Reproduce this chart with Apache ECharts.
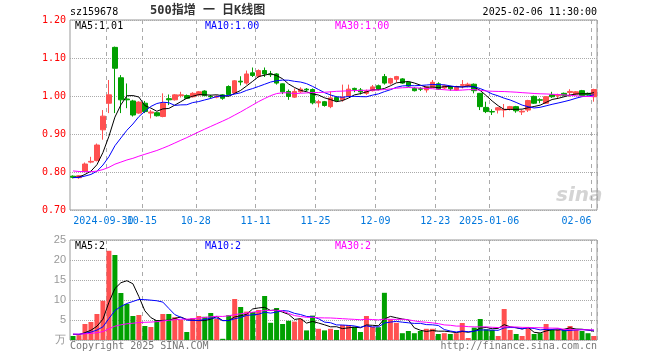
<!DOCTYPE html>
<html><head><meta charset="utf-8">
<script src="https://cdn.jsdelivr.net/npm/echarts@6/dist/echarts.min.js"></script>
<style>html,body{margin:0;padding:0;background:#fff}#c{width:660px;height:360px}</style>
</head><body><div id="c"></div>
<script>
// ---- data ----
const dates = ['2024-09-20','2024-09-23','2024-09-24','2024-09-25','2024-09-26','2024-09-27','2024-09-30',
'2024-10-08','2024-10-09','2024-10-10','2024-10-11','2024-10-14','2024-10-15','2024-10-16','2024-10-17','2024-10-18','2024-10-21','2024-10-22','2024-10-23','2024-10-24','2024-10-25','2024-10-28','2024-10-29','2024-10-30','2024-10-31',
'2024-11-01','2024-11-04','2024-11-05','2024-11-06','2024-11-07','2024-11-08','2024-11-11','2024-11-12','2024-11-13','2024-11-14','2024-11-15','2024-11-18','2024-11-19','2024-11-20','2024-11-21','2024-11-22','2024-11-25','2024-11-26','2024-11-27','2024-11-28','2024-11-29',
'2024-12-02','2024-12-03','2024-12-04','2024-12-05','2024-12-06','2024-12-09','2024-12-10','2024-12-11','2024-12-12','2024-12-13','2024-12-16','2024-12-17','2024-12-18','2024-12-19','2024-12-20','2024-12-23','2024-12-24','2024-12-25','2024-12-26','2024-12-27','2024-12-30','2024-12-31',
'2025-01-02','2025-01-03','2025-01-06','2025-01-07','2025-01-08','2025-01-09','2025-01-10','2025-01-13','2025-01-14','2025-01-15','2025-01-16','2025-01-17','2025-01-20','2025-01-21','2025-01-22','2025-01-23','2025-01-24','2025-01-27',
'2025-02-05','2025-02-06'];
const opens  = [0.789,0.785,0.801,0.826,0.830,0.911,0.981,1.128,1.048,0.992,0.987,0.955,0.981,0.955,0.956,0.946,0.993,0.990,1.001,1.001,0.998,1.003,1.013,0.999,0.997,
1.003,1.025,1.008,1.039,1.034,1.061,1.052,1.067,1.058,1.058,1.032,1.012,0.997,1.011,1.018,1.017,0.982,0.985,0.972,0.996,0.990,
1.000,1.020,1.016,1.007,1.014,1.027,1.051,1.034,1.044,1.045,1.036,1.020,1.019,1.016,1.023,1.032,1.021,1.025,1.016,1.028,1.026,1.031,
1.007,0.970,0.959,0.963,0.963,0.966,0.972,0.958,0.963,0.999,0.990,0.981,1.003,1.001,1.007,1.009,1.005,1.014,1.007,0.998];
const highs  = [0.791,0.792,0.825,0.840,0.875,0.963,1.042,1.130,1.055,1.033,0.990,0.986,0.987,0.963,0.958,1.007,1.004,1.005,1.011,1.004,1.010,1.013,1.015,1.003,1.002,
1.005,1.028,1.042,1.052,1.067,1.075,1.070,1.075,1.066,1.060,1.033,1.017,1.020,1.023,1.021,1.020,0.990,0.987,1.012,0.999,1.030,
1.030,1.022,1.021,1.017,1.029,1.030,1.058,1.048,1.053,1.047,1.038,1.023,1.023,1.026,1.042,1.036,1.030,1.027,1.027,1.042,1.035,1.033,
1.008,0.985,0.965,0.971,0.979,0.974,0.974,0.963,0.990,1.001,0.994,1.000,1.011,1.006,1.009,1.018,1.013,1.016,1.009,1.019];
const lows   = [0.783,0.782,0.800,0.823,0.828,0.885,0.955,0.955,0.955,0.968,0.946,0.953,0.955,0.941,0.946,0.944,0.976,0.988,0.996,0.992,0.996,1.001,1.000,0.993,0.994,
0.990,1.003,1.005,1.028,1.030,1.050,1.048,1.050,1.050,1.030,1.005,0.990,0.995,1.008,1.012,0.978,0.970,0.972,0.968,0.985,0.985,
0.998,1.010,1.004,1.003,1.012,1.015,1.030,1.030,1.036,1.032,1.024,1.012,1.013,1.009,1.021,1.016,1.018,1.014,1.014,1.020,1.023,1.007,
0.963,0.955,0.950,0.954,0.944,0.962,0.956,0.950,0.958,0.979,0.981,0.979,0.995,0.993,1.000,0.998,1.003,0.999,1.001,0.985];
const closes = [0.786,0.790,0.821,0.828,0.871,0.947,1.003,1.073,0.990,0.990,0.950,0.984,0.959,0.958,0.948,0.981,0.990,1.003,1.003,0.994,1.007,1.011,1.001,0.998,0.999,
0.994,1.004,1.040,1.037,1.058,1.054,1.067,1.058,1.056,1.034,1.011,0.999,1.012,1.018,1.016,0.982,0.985,0.975,0.995,0.988,0.997,
1.018,1.017,1.011,1.012,1.024,1.018,1.034,1.046,1.051,1.034,1.026,1.014,1.018,1.024,1.036,1.018,1.027,1.019,1.025,1.030,1.031,1.014,
0.972,0.959,0.958,0.969,0.965,0.972,0.961,0.960,0.988,0.981,0.989,0.998,0.998,1.003,1.002,1.012,1.011,1.001,1.003,1.017];
const volumes = [1.0,1.2,4.0,4.5,6.5,9.8,22.3,21.25,11.75,9.0,6.0,6.25,3.5,3.25,5.0,6.5,6.5,5.7,5.0,2.0,5.5,6.0,5.8,6.75,5.3,
0.3,6.2,10.25,8.25,7.1,7.0,7.5,11.0,4.3,8.0,4.0,4.8,4.6,5.3,2.4,6.1,2.8,2.4,2.8,2.5,3.75,
3.75,3.3,2.0,6.0,3.3,3.2,11.8,5.2,4.3,1.7,2.25,1.7,2.25,2.8,2.8,1.5,1.7,1.5,1.7,4.25,0.5,3.1,
5.25,2.7,2.5,1.0,7.75,2.5,1.5,1.0,3.1,1.5,1.7,4.0,2.5,2.7,2.5,3.5,2.5,2.25,1.7,1.0];
// closes / volumes before the visible window, estimated from where the MA lines start
const priorCloses = [0.835,0.832,0.830,0.828,0.826,0.826,0.824,0.823,0.823,0.822,
0.815,0.810,0.806,0.800,0.797,0.795,0.790,0.786,0.784,0.782,
0.783,0.786,0.785,0.787,0.784,0.783,0.786,0.785,0.786];
const priorVolumes = [1.5,1.5,1.5,1.5,1.5,1.5,1.5,1.5,1.5,1.5,1.5,1.5,1.5,1.5,1.5,1.5,1.5,1.5,1.5,1.5,1.5,1.5,1.5,1.5,1.5,1.5,1.5,1.5,1.5];
const labelDates = ['2024-09-30','2024-10-15','2024-10-28','2024-11-11','2024-11-25','2024-12-09','2024-12-23','2025-01-06','2025-02-06'];
const labelTexts = ['2024-09-30','10-15','10-28','11-11','11-25','12-09','12-23','2025-01-06','02-06'];
const labelShift = [-5.5, -3, -3, -3, -3, -3, -3, -3, -17.5];
const priceTicks = [0.70, 0.80, 0.90, 1.00, 1.10, 1.20];
const volTicks = [0, 5, 10, 15, 20, 25];
const maTexts = ['MA5:1.01', 'MA10:1.00', 'MA30:1.00'];
const volMaTexts = ['MA5:2', 'MA10:2', 'MA30:2'];

// ---- helpers ----
function movingAvg(n, data, prior) {
  const all = prior.concat(data);
  return data.map(function (_, i) {
    let s = 0;
    for (let k = 0; k < n; k++) s += all[prior.length + i - k];
    return +(s / n).toFixed(4);
  });
}
const UP = '#ff5050', DOWN = '#00a000';
const labelIdx = labelDates.map(d => dates.indexOf(d));
const kData = dates.map((d, i) => [opens[i], closes[i], lows[i], highs[i]]);
const vData = volumes.map((v, i) => ({ value: v, itemStyle: { color: closes[i] >= opens[i] ? UP : DOWN } }));
const mono = "'DejaVu Sans Mono', monospace";

const chart = echarts.init(document.getElementById('c'), null, { renderer: 'canvas' });
const splitX = {
  show: true,
  interval: function (idx) { return labelIdx.indexOf(idx) >= 0; },
  lineStyle: { color: '#aaa', type: [4, 4], width: 1 }
};
const baseGraphic = [
  { type: 'text', left: 70, top: 7, style: { text: 'sz159678', fill: '#000', font: "10px 'DejaVu Sans Mono'" } },
  { type: 'text', left: 150, top: 5, style: { text: '500指增 一 日K线图', fill: '#333', font: "bold 12px 'DejaVu Sans Mono', 'Noto Sans CJK SC'" } },
  { type: 'text', right: 63, top: 7, style: { text: '2025-02-06 11:30:00', fill: '#000', font: "10px 'DejaVu Sans Mono'" } },
  { type: 'text', left: 75, top: 21, style: { text: maTexts[0], fill: '#000', font: "10px 'DejaVu Sans Mono'" } },
  { type: 'text', left: 205, top: 21, style: { text: maTexts[1], fill: '#0000ff', font: "10px 'DejaVu Sans Mono'" } },
  { type: 'text', left: 335, top: 21, style: { text: maTexts[2], fill: '#ff00ff', font: "10px 'DejaVu Sans Mono'" } },
  { type: 'text', left: 75, top: 241, style: { text: volMaTexts[0], fill: '#000', font: "10px 'DejaVu Sans Mono'" } },
  { type: 'text', left: 205, top: 241, style: { text: volMaTexts[1], fill: '#0000ff', font: "10px 'DejaVu Sans Mono'" } },
  { type: 'text', left: 335, top: 241, style: { text: volMaTexts[2], fill: '#ff00ff', font: "10px 'DejaVu Sans Mono'" } },
  { type: 'text', left: 70, top: 341, style: { text: 'Copyright 2025 SINA.COM', fill: '#777', font: "10px 'DejaVu Sans Mono'" } },
  { type: 'text', right: 63, top: 341, style: { text: 'http://finance.sina.com.cn', fill: '#777', font: "10px 'DejaVu Sans Mono'" } },
  { type: 'text', left: 556, top: 186, z: -1, style: { text: 'sina', fill: '#d4d4d4', font: "italic bold 20px 'DejaVu Sans'" } }
];
chart.setOption({
  animation: false,
  backgroundColor: '#fff',
  grid: [
    { left: 70, top: 20, width: 527, height: 190, show: true, borderColor: '#999', borderWidth: 1, backgroundColor: 'transparent' },
    { left: 70, top: 240, width: 527, height: 100, show: true, borderColor: '#999', borderWidth: 1, backgroundColor: 'transparent' }
  ],
  xAxis: [
    {
      type: 'category', gridIndex: 0, data: dates, boundaryGap: true,
      axisLine: { show: false }, axisTick: { show: false },
      splitLine: splitX,
      axisLabel: { show: false }
    },
    {
      type: 'category', gridIndex: 1, data: dates, boundaryGap: true,
      axisLine: { show: false }, axisTick: { show: false }, axisLabel: { show: false },
      splitLine: splitX
    }
  ],
  yAxis: [
    {
      type: 'value', gridIndex: 0, min: 0.7, max: 1.2, interval: 0.1,
      axisLine: { show: false }, axisTick: { show: false },
      axisLabel: { color: '#ff0000', fontFamily: mono, fontSize: 10, margin: 4, formatter: v => v.toFixed(2) },
      splitLine: { show: true, lineStyle: { color: '#aaa', type: 'dotted', width: 1 } }
    },
    {
      type: 'value', gridIndex: 1, min: 0, max: 25, interval: 5,
      axisLine: { show: false }, axisTick: { show: false },
      axisLabel: { color: '#999', fontFamily: "'Liberation Sans', Arial, sans-serif", fontSize: 11, margin: 4,
        formatter: v => v === 0 ? '万' : String(v) },
      splitLine: { show: true, lineStyle: { color: '#aaa', type: 'dotted', width: 1 } }
    }
  ],
  series: [
    {
      type: 'candlestick', xAxisIndex: 0, yAxisIndex: 0, data: kData, barWidth: 5,
      itemStyle: { color: UP, color0: DOWN, borderColor: UP, borderColor0: DOWN, borderWidth: 1 }
    },
    { type: 'line', xAxisIndex: 0, yAxisIndex: 0, data: movingAvg(5, closes, priorCloses), showSymbol: false, symbol: 'none', lineStyle: { color: '#000', width: 1 } },
    { type: 'line', xAxisIndex: 0, yAxisIndex: 0, data: movingAvg(10, closes, priorCloses), showSymbol: false, symbol: 'none', lineStyle: { color: '#0000ff', width: 1 } },
    { type: 'line', xAxisIndex: 0, yAxisIndex: 0, data: movingAvg(30, closes, priorCloses), showSymbol: false, symbol: 'none', lineStyle: { color: '#ff00ff', width: 1 } },
    { type: 'bar', xAxisIndex: 1, yAxisIndex: 1, data: vData, barWidth: 5 },
    { type: 'line', xAxisIndex: 1, yAxisIndex: 1, data: movingAvg(5, volumes, priorVolumes), showSymbol: false, symbol: 'none', lineStyle: { color: '#000', width: 1 } },
    { type: 'line', xAxisIndex: 1, yAxisIndex: 1, data: movingAvg(10, volumes, priorVolumes), showSymbol: false, symbol: 'none', lineStyle: { color: '#0000ff', width: 1 } },
    { type: 'line', xAxisIndex: 1, yAxisIndex: 1, data: movingAvg(30, volumes, priorVolumes), showSymbol: false, symbol: 'none', lineStyle: { color: '#ff00ff', width: 1 } }
  ],
  graphic: baseGraphic
});
// x-axis date labels, placed with the library's own category scale
const dateLabels = labelDates.map(function (d, k) {
  const px = chart.convertToPixel({ xAxisIndex: 0 }, d);
  return {
    type: 'text', x: px + labelShift[k], y: 216,
    style: { text: labelTexts[k], fill: '#0077dd', font: "10px 'DejaVu Sans Mono'", textAlign: 'center', textVerticalAlign: 'top' }
  };
});
chart.setOption({ graphic: baseGraphic.concat(dateLabels) });
</script>
</body></html>
